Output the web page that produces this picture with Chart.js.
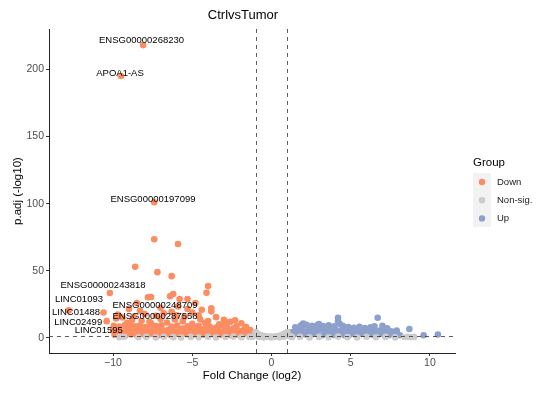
<!DOCTYPE html>
<html>
<head>
<meta charset="utf-8">
<title>CtrlvsTumor volcano</title>
<script src="https://cdn.jsdelivr.net/npm/chart.js@4.4.0/dist/chart.umd.min.js"></script>
<style>
  html, body { margin: 0; padding: 0; background: #fff; }
</style>
</head>
<body>
<canvas id="volcano" width="543" height="396"></canvas>
<script>
// Group colours (RColorBrewer Set2-ish)
const downColor = "#FC8D62";
const nsColor = "#CCCCCC";
const upColor = "#8DA0CB";
const fontFamily = "'Liberation Sans', Arial, sans-serif";

const groupNames = ["Down", "Non-sig.", "Up"];
const xTicks = [-10, -5, 0, 5, 10];
const yTicks = [0, 50, 100, 150, 200];
const fcCut = 1;
const padjCut = 1.3;

// Down-regulated genes: log2 fold change / -log10 p.adj
const downFC = [
  -8.1, -9.5, -7.4, -7.4, -5.9, -8.6, -7.2, -6.3, -4.0, -4.1, -10.2, -6.4, -6.2, -7.8, -7.6, -5.8, -5.3, -8.5, -4.8, -3.8, -3.8, -5.3, -12.8, -10.6, -2.6, -1.9, -10.4,
  -9.8, -9.1, -8.7, -8.2, -7.6, -7.0, -6.6, -6.0, -5.6, -5.0, -4.5, -4.2, -3.3, -3.0, -6.8, -8.9, -2.2,
  -9.7, -9.4, -8.0, -7.3, -6.3, -5.9, -5.0, -4.6, -4.4, -3.5, -2.8, -2.3, -1.6, -9.0, -8.3, -7.0, -6.1, -5.5, -4.0, -3.1, -7.7, -8.8,
  -9.9, -9.55, -9.2, -8.85, -8.5, -8.15, -7.8, -7.45, -7.1, -6.75, -6.4, -6.05, -5.7, -5.35, -5.0, -4.65, -4.3, -3.95, -3.6, -3.25, -2.9, -2.55, -2.2, -1.85, -1.5, -1.15,
  -9.7, -9.0, -8.3, -7.6, -6.9, -6.2, -5.5, -4.8, -4.1, -3.4, -2.7, -2.0, -1.4,
  -10.0, -9.65, -9.3, -8.95, -8.6, -8.25, -7.9, -7.55, -7.2, -6.85, -6.5, -6.15, -5.8, -5.45, -5.1, -4.75, -4.4, -4.05, -3.7, -3.35, -3.0, -2.65, -2.3, -1.95, -1.6, -1.25,
  -9.8, -9.1, -8.4, -7.7, -7.0, -6.3, -5.6, -4.9, -4.2, -3.5, -2.9,
  -9.95, -9.6, -9.25, -8.6, -8.3, -7.95, -7.3, -6.95, -6.3, -5.95, -5.3, -4.9, -4.6, -3.9, -3.5, -2.8, -2.4, -1.7, -1.35
];
const downLogP = [
  218, 195, 101, 73.5, 70, 53, 49, 46, 38.6, 33.6, 33.5, 31, 32.7, 30.3, 30.5, 29, 29, 26, 26, 22, 19.8, 21.5, 20.5, 19, 12, 11, 12.5,
  14.5, 11.2, 16, 12.8, 10.9, 14.2, 11.5, 16.8, 12.4, 10.6, 13.9, 11.3, 10.2, 13.6, 18.3, 9.8, 8.9,
  17.5, 15.2, 17.8, 16.5, 19.5, 23.5, 19, 16.8, 21, 15.5, 11.5, 13.2, 8.2, 21.5, 20.2, 22.4, 13.8, 15.6, 12.6, 9.2, 12.0, 13.4,
  2.4, 2.9, 2.1, 2.7, 2.2, 3.0, 2.3, 2.8, 2.0, 2.6, 2.3, 3.1, 2.2, 2.7, 2.0, 2.9, 2.4, 2.1, 2.8, 2.3, 2.6, 2.0, 2.5, 2.2, 2.7, 2.1,
  3.9, 4.1, 3.7, 4.2, 3.8, 4.0, 3.6, 4.1, 3.7, 4.0, 3.6, 3.9, 3.3,
  5.6, 6.2, 5.1, 5.8, 6.3, 5.2, 5.9, 6.4, 5.3, 5.7, 6.1, 5.0, 5.8, 6.3, 5.2, 5.6, 6.0, 4.9, 5.5, 5.9, 4.8, 5.3, 4.6, 5.1, 4.3, 3.8,
  7.2, 7.5, 6.9, 7.4, 7.1, 7.3, 7.0, 7.2, 6.8, 6.9, 6.4,
  9.1, 8.4, 9.6, 8.7, 9.3, 8.2, 8.9, 9.4, 8.5, 9.2, 8.6, 8.0, 9.0, 8.4, 7.8, 7.6, 7.1, 6.6, 5.9
];

// Non-significant genes
const nsFC = [
  -9.6, -9.3, -8.4, -7.9, -7.3, -6.8, -6.2, -5.7, -5.1, -4.6, -4.0, -3.5, -2.9, -2.4, -1.9, -1.4,
  1.3, 1.8, 2.4, 3.0, 3.6, 4.2, 4.8, 5.4, 6.0, 6.6, 7.2, 7.8, 8.4, 8.6, 8.8, 9.0,
  -1.0, -0.95, -0.9, -0.8, -0.7, -0.6, -0.45, -0.3, -0.15, 0, 0.15, 0.3, 0.45, 0.6, 0.7, 0.8, 0.9, 0.95, 1.0,
  -0.8, -0.5, 0, 0.5, 0.8, -1.05, 1.1, -1.2, 1.25
];
const nsLogP = [
  0.6, 0.9, 0.5, 0.8, 0.4, 0.9, 0.6, 0.3, 0.8, 0.5, 0.9, 0.4, 0.7, 1.0, 0.5, 0.8,
  0.6, 0.9, 0.4, 0.8, 0.5, 1.0, 0.6, 0.3, 0.9, 0.5, 0.8, 0.4, 0.7, 0.9, 0.6, 0.8,
  4.6, 3.8, 3.1, 2.6, 2.1, 1.7, 1.4, 1.1, 0.9, 1.0, 0.8, 1.2, 1.5, 1.9, 2.4, 2.9, 3.5, 4.1, 4.4,
  0.8, 0.4, 0.3, 0.5, 0.9, 1.8, 1.5, 0.9, 1.0
];

// Up-regulated genes
const upFC = [
  4.2, 4.2, 6.7, 6.5, 7.0, 8.7, 9.6, 10.5, 7.9, 4.3, 2.0, 3.0,
  1.1, 1.45, 1.8, 2.15, 2.5, 2.85, 3.2, 3.55, 3.9, 4.25, 4.6, 4.95, 5.3, 5.65, 6.0, 6.35, 6.7, 7.05, 7.4, 7.75, 8.1,
  1.3, 2.0, 2.7, 3.4, 4.1, 4.8, 5.5, 6.2, 6.9, 7.6,
  1.25, 1.6, 1.95, 2.3, 2.65, 3.0, 3.35, 3.7, 4.05, 4.4, 4.75, 5.1, 5.45, 5.8, 6.15, 6.5, 6.85, 7.2, 7.55, 7.9,
  1.7, 2.4, 3.1, 3.8, 4.5, 5.0, 5.7, 6.4, 7.0,
  1.5, 1.85, 2.2, 2.55, 2.9, 3.25, 3.6, 3.95, 4.5, 4.85, 5.2, 5.55, 5.9, 6.25, 7.3
];
const upLogP = [
  15, 12.5, 15, 8.6, 9.1, 6.7, 2.0, 2.6, 5.5, 10.5, 10.8, 10.4,
  2.2, 2.8, 2.1, 2.6, 2.3, 2.9, 2.0, 2.7, 2.2, 2.8, 2.1, 2.6, 2.3, 2.9, 2.0, 2.5, 2.2, 2.7, 2.1, 2.5, 2.0,
  3.5, 4.0, 3.8, 4.1, 3.7, 4.0, 3.6, 3.9, 3.5, 3.4,
  4.2, 5.6, 6.1, 5.2, 5.9, 6.3, 5.4, 5.8, 6.2, 5.1, 5.7, 5.3, 6.0, 4.9, 5.5, 5.0, 5.6, 4.6, 5.0, 3.9,
  7.0, 7.4, 7.6, 7.1, 7.3, 6.8, 6.6, 6.9, 6.2,
  8.0, 9.3, 9.8, 9.1, 9.6, 8.8, 9.4, 8.6, 9.0, 8.1, 7.6, 8.3, 7.4, 7.9, 7.2
];

// Labelled genes (text placed near their points, like ggrepel did)
const geneLabels = [
  "ENSG00000268230", "APOA1-AS", "ENSG00000197099", "ENSG00000243818", "LINC01093",
  "LINC01488", "LINC02499", "LINC01595", "ENSG00000248709", "ENSG00000287558"
];
const labelFC = [-8.2, -9.56, -7.48, -10.63, -12.15, -12.33, -12.2, -10.9, -7.35, -7.35];
const labelLogP = [221.8, 197.2, 103.5, 39.4, 29.0, 18.8, 11.9, 5.4, 24.6, 16.4];

function toPoints(xs, ys) {
  return xs.map((x, i) => ({ x: x, y: ys[i] }));
}

function minusSign(v) {
  return v < 0 ? "\u2212" + Math.abs(v) : String(v);
}

const volcanoOverlay = {
  id: "volcanoOverlay",
  afterDatasetsDraw(chart) {
    const { ctx, chartArea: area, scales } = chart;
    const x = scales.x;
    const y = scales.y;
    ctx.save();
    // threshold lines
    ctx.strokeStyle = "#333333";
    ctx.lineWidth = 0.8;
    ctx.setLineDash([4, 4]);
    ctx.beginPath();
    [-fcCut, fcCut].forEach(function (v) {
      const px = Math.round(x.getPixelForValue(v)) + 0.5;
      ctx.moveTo(px, area.top);
      ctx.lineTo(px, area.bottom);
    });
    const py = Math.round(y.getPixelForValue(padjCut)) + 0.5;
    ctx.moveTo(area.left, py);
    ctx.lineTo(area.right, py);
    ctx.stroke();
    ctx.setLineDash([]);

    // gene labels
    ctx.font = "9.5px " + fontFamily;
    ctx.fillStyle = "#000000";
    ctx.textAlign = "center";
    ctx.textBaseline = "middle";
    geneLabels.forEach(function (t, i) {
      ctx.fillText(t, x.getPixelForValue(labelFC[i]), y.getPixelForValue(labelLogP[i]));
    });
    ctx.restore();
  },
  afterDraw(chart) {
    const ctx = chart.ctx;
    ctx.save();
    // plot title
    ctx.font = "13px " + fontFamily;
    ctx.fillStyle = "#000000";
    ctx.textAlign = "center";
    ctx.textBaseline = "middle";
    ctx.fillText("CtrlvsTumor", 243, 15);

    // legend
    const colors = [downColor, nsColor, upColor];
    ctx.textAlign = "left";
    ctx.font = "11.5px " + fontFamily;
    ctx.fillText("Group", 473, 163);
    ctx.fillStyle = "#F2F2F2";
    ctx.fillRect(473, 173, 18, 54);
    ctx.font = "9.5px " + fontFamily;
    groupNames.forEach(function (name, i) {
      const cy = 182 + i * 18.2;
      ctx.fillStyle = colors[i];
      ctx.beginPath();
      ctx.arc(482, cy, 3.2, 0, Math.PI * 2);
      ctx.fill();
      ctx.fillStyle = "#1A1A1A";
      ctx.fillText(name, 497, cy);
    });
    ctx.restore();
  },
};

const pointStyle = { pointRadius: 3.3, pointHoverRadius: 3.3, borderWidth: 0 };

new Chart(document.getElementById("volcano").getContext("2d"), {
  type: "scatter",
  data: {
    datasets: [
      Object.assign({ label: groupNames[1], data: toPoints(nsFC, nsLogP), backgroundColor: nsColor, borderColor: nsColor }, pointStyle),
      Object.assign({ label: groupNames[0], data: toPoints(downFC, downLogP), backgroundColor: downColor, borderColor: downColor }, pointStyle),
      Object.assign({ label: groupNames[2], data: toPoints(upFC, upLogP), backgroundColor: upColor, borderColor: upColor }, pointStyle),
    ],
  },
  options: {
    responsive: false,
    animation: false,
    layout: { padding: { left: 0, top: 29, right: 88, bottom: 0 } },
    plugins: {
      legend: { display: false },
      tooltip: { enabled: false },
    },
    scales: {
      x: {
        type: "linear",
        min: -14.04,
        max: 11.58,
        afterBuildTicks: function (scale) {
          scale.ticks = xTicks.map(function (v) { return { value: v }; });
        },
        afterFit: function (scale) { scale.height = 43; },
        ticks: {
          callback: minusSign,
          color: "#4D4D4D",
          font: { family: fontFamily, size: 10.5 },
          padding: 1,
          maxRotation: 0,
        },
        grid: { drawOnChartArea: false, drawTicks: true, tickLength: 3, color: "#333333" },
        border: { display: true, color: "#222222", width: 1 },
        title: {
          display: true,
          text: "Fold Change (log2)",
          color: "#000000",
          font: { family: fontFamily, size: 11.5 },
          padding: { top: 0, bottom: 13 },
        },
      },
      y: {
        type: "linear",
        min: -11.2,
        max: 230,
        afterBuildTicks: function (scale) {
          scale.ticks = yTicks.map(function (v) { return { value: v }; });
        },
        afterFit: function (scale) { scale.width = 49; },
        ticks: {
          color: "#4D4D4D",
          font: { family: fontFamily, size: 10.5 },
          padding: 2,
        },
        grid: { drawOnChartArea: false, drawTicks: true, tickLength: 3, color: "#333333" },
        border: { display: true, color: "#222222", width: 1 },
        title: {
          display: true,
          text: "p.adj (-log10)",
          color: "#000000",
          font: { family: fontFamily, size: 11.5 },
          padding: { top: 11, bottom: 0 },
        },
      },
    },
  },
  plugins: [volcanoOverlay],
});
</script>
</body>
</html>
